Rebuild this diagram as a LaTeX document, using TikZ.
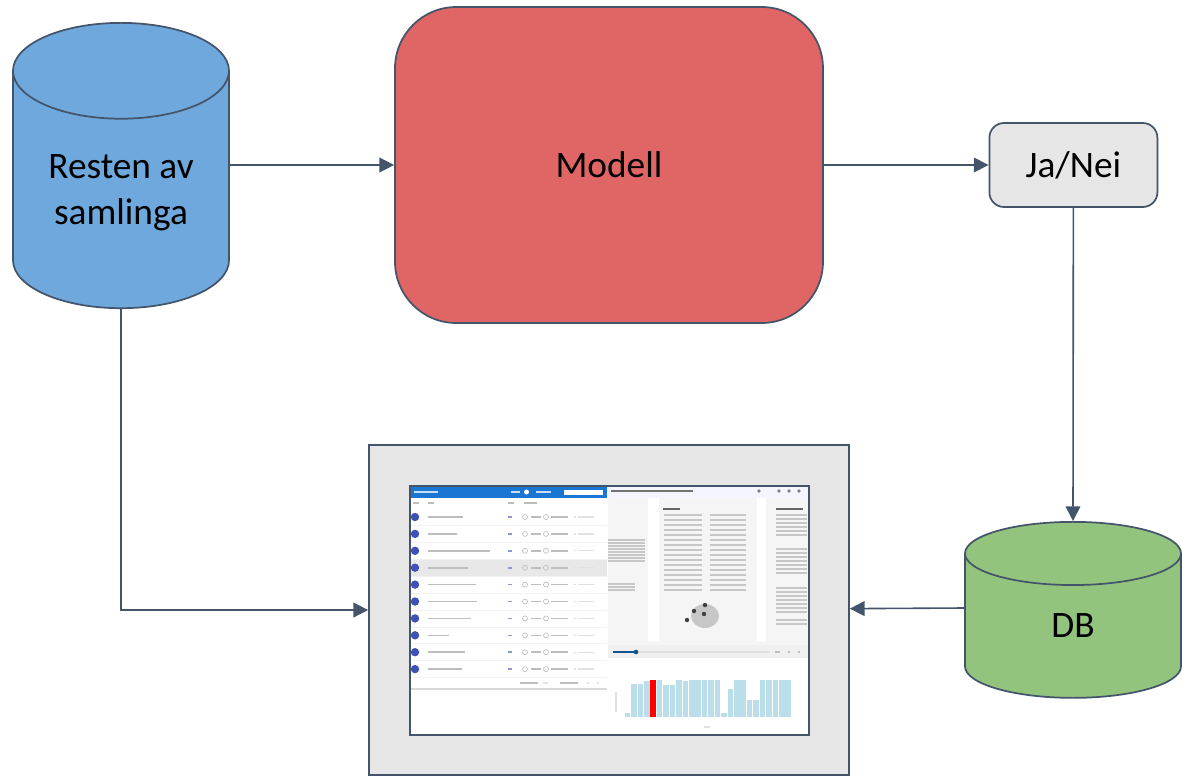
\documentclass[tikz,border=0pt]{standalone}
\usepackage{fontspec}
\setmainfont{Carlito}
\usepackage{xcolor}
\usetikzlibrary{arrows.meta, positioning, shapes.geometric}

\definecolor{edgeblue}{HTML}{44546A}
\definecolor{storeblue}{HTML}{6FA8DC}
\definecolor{modelred}{HTML}{E06666}
\definecolor{storegreen}{HTML}{93C47D}
\definecolor{panelgrey}{HTML}{E7E6E6}
\definecolor{topblue}{HTML}{1976D2}
\definecolor{dotblue}{HTML}{3F51B5}
\definecolor{barblue}{HTML}{BBDFEA}
\definecolor{inkgrey}{HTML}{BDBDBD}

\newcommand{\lifted}[2]{\raisebox{#1}[0pt][0pt]{\begin{tabular}{@{}c@{}}#2\end{tabular}}}

\begin{document}
\begin{tikzpicture}[
  x=0.75pt, y=-0.75pt,
  block/.style={draw=edgeblue, line width=1.3pt, rectangle, align=center, font=\fontsize{28}{34.5}\selectfont},
  store/.style={draw=edgeblue, line width=1.3pt, cylinder, shape border rotate=90, cylinder uses custom fill, anchor=north, inner sep=0pt, font=\fontsize{28}{34.5}\selectfont, minimum width=162pt},
  arr/.style={-{Triangle[length=11pt,width=11pt]}, line width=1.2pt, draw=edgeblue},
  ink/.style={inkgrey, line width=1.2pt},
  faint/.style={inkgrey!45, line width=1pt},
  print/.style={inkgrey!85, line width=0.9pt}
]
\useasboundingbox (0,0) rectangle (1182,779);

\node[block, fill=modelred, rounded corners=46pt, minimum width=321pt, minimum height=237pt] (modell) at (609,165) {Modell};
\node[store, cylinder end fill=storeblue, cylinder body fill=storeblue, minimum height=214pt, aspect=0.66] (resten) at (121,22) {\lifted{-8pt}{Resten av\\samlinga}};
\node[block, fill=panelgrey, rounded corners=11pt, minimum width=126pt, minimum height=63pt, right=123.5pt of modell] (janei) {Ja/Nei};
\node[store, cylinder end fill=storegreen, cylinder body fill=storegreen, minimum height=132pt, aspect=1.46] (db) at (1073,521) {\lifted{-8pt}{DB}};
\node[block, fill=panelgrey, minimum width=360pt, minimum height=247.5pt] (screen) at (609,610) {};

\draw[arr] (resten.east |- modell) -- (modell);
\draw[arr] (modell) -- (janei);
\draw[arr] (janei) -- (db.north);
\draw[arr] (db.west |- 0,608) -- (screen);
\draw[arr] (resten.south) |- (screen.west);

\fill[white] (410,486) rectangle (809,735);
\fill[topblue] (410,487) rectangle (607,498);
\fill[blue!4] (607,487) rectangle (809,498);
\fill[white] (564,489.5) rectangle (603,494.5);
\fill[white!75!topblue] (414,491) rectangle (438,493);
\fill[white!75!topblue] (511,491) rectangle (520,493);
\fill[white] (526.5,492) circle (2.5);
\fill[white!75!topblue] (536,491) rectangle (551,493);
\draw[ink] (413,503) -- (419,503) (428,503) -- (434,503) (508,503) -- (514,503) (524,503) -- (537,503);

\fill[black!9] (410,560) rectangle (607,576);
\foreach \w [count=\i from 0] in {463,457,490,468,476,477,471,449,465,462} {
  \pgfmathsetmacro{\rowy}{517+16.9*\i}
  \draw[black!5, line width=0.5pt] (410,\rowy+8.5) -- (607,\rowy+8.5);
  \fill[dotblue] (415,\rowy) circle (4.2);
  \draw[ink] (428,\rowy) -- (\w,\rowy);
  \draw[dotblue!60, line width=1.2pt] (508,\rowy) -- (512,\rowy);
  \draw[inkgrey, line width=0.5pt] (525,\rowy) circle (2.5) (546,\rowy) circle (2.5);
  \draw[ink] (531,\rowy) -- (541,\rowy) (551,\rowy) -- (568,\rowy);
  \draw[faint] (574,\rowy) -- (576,\rowy) (578,\rowy) -- (594,\rowy);
}
\draw[ink] (520,683) -- (538,683) (560,683) -- (578,683);
\draw[faint] (543,683) -- (548,683) (587,683) -- (589,683) (597,683) -- (599,683);
\draw[black!15, line width=0.8pt] (410,689) -- (607,689);

\fill[black!4] (608,498) rectangle (809,658);
\fill[white] (648,498) rectangle (659,641) (757,498) rectangle (766,641);
\draw[black!55, line width=1.1pt] (611,491) -- (693,491);
\foreach \x in {759,779,789,799} \fill[black!50] (\x,491) circle (1.8);
\foreach \y in {540,543,...,563} \draw[print] (608,\y) -- (645,\y);
\foreach \y in {584,587,590} \draw[print] (608,\y) -- (635,\y);
\draw[black!60, line width=1.3pt] (663,509) -- (680,509) (776,509) -- (803,509);
\foreach \y in {515,520,...,590} \draw[print] (664,\y) -- (702,\y) (710,\y) -- (746,\y);
\foreach \y in {515,519,...,535, 549,553,...,575, 588,592,...,612, 620,624} \draw[print] (776,\y) -- (807,\y);
\fill[black!22] (705,616) ellipse (14 and 12);
\foreach \x/\y in {687/620, 694/611, 705/605, 704/614} \fill[black!75] (\x,\y) circle (2.2);

\fill[black!6] (608,645) rectangle (809,658);
\draw[black!12, line width=1.6pt] (613,652) -- (770,652);
\draw[topblue!70!black, line width=1.6pt] (613,652) -- (636,652);
\fill[topblue!70!black] (636,652) circle (2.3);
\draw[ink] (775,652) -- (780,652) (788,652) -- (790,652) (798,652) -- (800,652);

\foreach \h [count=\i from 0] in {0.1,0.9,0.88,0.98,1,1,0.87,0.87,1,0.97,1,1,1,1,1,0.1,0.77,1,1,0.45,0.45,1,1,1,1,1} {
  \pgfmathsetmacro{\barx}{627.5+6.43*\i}
  \pgfmathsetmacro{\bartop}{717-37*\h}
  \ifnum\i=4
    \fill[red] (\barx-2.8,\bartop) rectangle (\barx+2.8,717);
  \else
    \fill[barblue] (\barx-2.8,\bartop) rectangle (\barx+2.8,717);
  \fi
}
\draw[faint] (616,692) -- (616,712);
\draw[faint] (704,727) -- (710,727);

\draw[edgeblue, line width=2pt] (410,486) rectangle (809,735);
\end{tikzpicture}
\end{document}
